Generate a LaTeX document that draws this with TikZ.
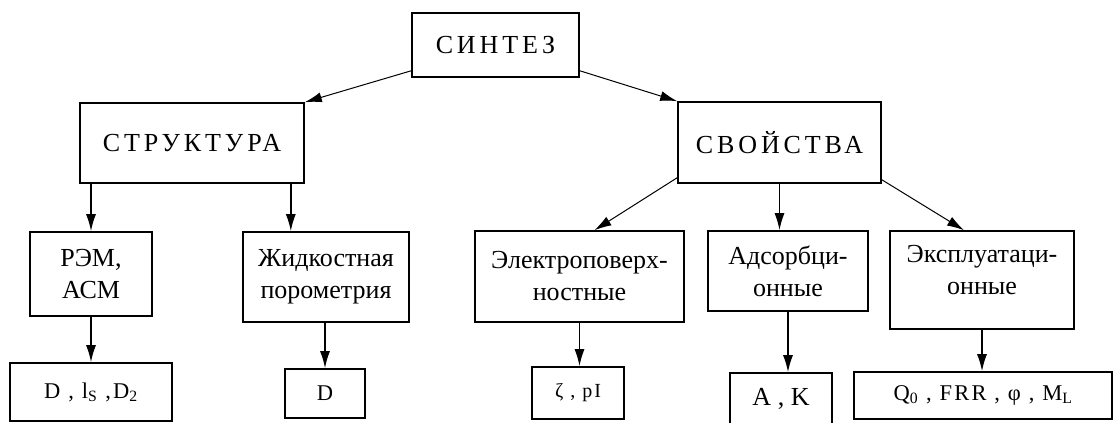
\documentclass[tikz,border=0pt]{standalone}
\usepackage{fontspec}
\setmainfont{Liberation Serif}
\newfontfamily\capsfont[LetterSpace=15]{Liberation Serif}
\newfontfamily\valfont[LetterSpace=10]{Liberation Serif}
\usepackage{xcolor}
\usepackage{tikz}
\usetikzlibrary{calc,arrows.meta}
\definecolor{ink}{HTML}{000000}
\newcommand\capsz{\capsfont\fontsize{26}{31}\selectfont}
\newcommand\mainsz{\fontsize{26}{32}\selectfont}
\newcommand\valsz{\valfont\fontsize{22.5}{27}\selectfont}
\tikzset{
  box/.style={draw=ink, line width=1.6pt, rectangle, inner sep=0pt, align=center, font=\mainsz},
  capbox/.style={box, font=\capsz},
  valbox/.style={box, font=\valsz},
  lbl/.style={text=ink, align=center, font=\mainsz},
  arr/.style={draw=ink, line width=1.5pt, -{Latex[length=17pt,width=10pt]}},
  darr/.style={arr, line width=1pt}
}

\begin{document}
\begin{tikzpicture}[x=1pt, y=-1pt]
  \useasboundingbox (0,0) rectangle (1114,423);
  \clip (0,0) rectangle (1114,423);

  \node[capbox, minimum width=167pt, minimum height=64pt] (synth) at (495.5,45) {СИНТЕЗ};
  \node[capbox, minimum width=224pt, minimum height=80pt] (struct) at (192,143) {СТРУКТУРА};
  \node[capbox, minimum width=203pt, minimum height=81pt] (props) at (779.5,142.5) {СВОЙСТВА};

  \node[box, minimum width=122pt, minimum height=84pt] (rem) at (91,274) {РЭМ,\\АСМ};
  \node[box, minimum width=166pt, minimum height=90pt] (liquid) at (326,277) {Жидкостная\\порометрия};
  \node[box, minimum width=209pt, minimum height=91pt] (elec) at (579.5,276.5) {Электроповерх-\\ностные};
  \node[box, minimum width=160pt, minimum height=80pt] (adsorb) at (788,271) {Адсорбци-\\онные};
  \node[box, minimum width=184pt, minimum height=98pt] (expl) at (982,280) {};
  \node[lbl] (expltext) at (982,270) {Эксплуатаци-\\онные};

  \node[valbox, minimum width=162pt, minimum height=58pt] (dvals) at (91,392) {D , l\textsubscript{S} ,D\textsubscript{2}};
  \node[valbox, minimum width=80pt, minimum height=49pt] (dpore) at (325,393.5) {D};
  \node[valbox, font=\valfont\fontsize{20}{24}\selectfont, minimum width=92pt, minimum height=52pt] (zeta) at (578,393) {ζ , pI};
  \node[box, minimum width=102pt, minimum height=52pt] (ak) at (781,399) {A , K};
  \node[valbox, minimum width=258pt, minimum height=47pt] (qvals) at (983,395.5) {Q\textsubscript{0} , FRR ,\ φ , M\textsubscript{L}};

  \coordinate (sl) at ([xshift=-14pt]struct.south east);

  \draw[darr] (synth.197) -- (struct.north east);
  \draw[darr] (synth.343) -- (props.north west);
  \draw[arr] (rem.north |- struct.south) -- (rem.north);
  \draw[arr] (sl) -- (sl |- liquid.north);
  \draw[darr] (props.199) -- ([xshift=15pt]elec.north);
  \draw[arr] (props.south) -- (props.south |- adsorb.north);
  \draw[darr] (props.340) -- ([xshift=-18pt]expl.north);

  \draw[arr] (rem.south) -- (rem.south |- dvals.north);
  \draw[arr] (dpore.north |- liquid.south) -- (dpore.north);
  \draw[arr] (elec.south) -- (elec.south |- zeta.north);
  \draw[arr] (adsorb.south) -- (adsorb.south |- ak.north);
  \draw[arr] (expl.south) -- (expl.south |- qvals.north);
\end{tikzpicture}
\end{document}
